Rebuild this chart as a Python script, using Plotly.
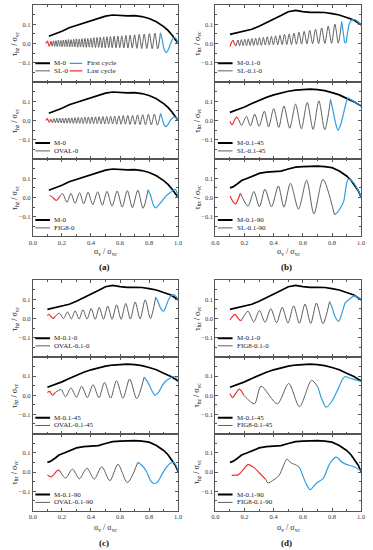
import plotly.graph_objects as go

# ---------------- monotonic curves ----------------
M0_x = [0.11, 0.15, 0.2, 0.25, 0.3, 0.35, 0.4, 0.45, 0.5, 0.55, 0.6, 0.65, 0.7, 0.75, 0.8, 0.85, 0.9, 0.93, 0.96, 0.98, 1.0]
M0_y = [0.038, 0.048, 0.064, 0.082, 0.094, 0.104, 0.118, 0.13, 0.142, 0.148, 0.146, 0.143, 0.145, 0.14, 0.13, 0.113, 0.088, 0.068, 0.042, 0.022, 0.0]

M01_0_x = [0.1, 0.15, 0.2, 0.25, 0.3, 0.35, 0.4, 0.45, 0.5, 0.55, 0.6, 0.65, 0.7, 0.75, 0.8, 0.85, 0.9, 0.95, 1.0]
M01_0_y = [0.047, 0.055, 0.063, 0.074, 0.09, 0.107, 0.125, 0.145, 0.165, 0.172, 0.166, 0.162, 0.162, 0.161, 0.155, 0.148, 0.135, 0.122, 0.097]

M01_45_x = [0.1, 0.15, 0.2, 0.25, 0.3, 0.35, 0.4, 0.45, 0.5, 0.55, 0.6, 0.65, 0.7, 0.75, 0.8, 0.85, 0.9, 0.95, 1.0]
M01_45_y = [0.042, 0.055, 0.07, 0.088, 0.105, 0.12, 0.133, 0.143, 0.152, 0.158, 0.162, 0.163, 0.16, 0.155, 0.145, 0.133, 0.115, 0.098, 0.075]

M01_90_x = [0.1, 0.12, 0.15, 0.18, 0.22, 0.26, 0.3, 0.35, 0.4, 0.45, 0.5, 0.55, 0.6, 0.65, 0.7, 0.75, 0.8, 0.85, 0.9, 0.93, 0.96, 0.98, 1.0]
M01_90_y = [0.05, 0.055, 0.07, 0.088, 0.1, 0.112, 0.125, 0.132, 0.135, 0.137, 0.148, 0.158, 0.16, 0.162, 0.163, 0.16, 0.155, 0.138, 0.112, 0.09, 0.06, 0.035, 0.0]

# ---------------- (a) SL-0 ----------------
SL0_red_x = [0.09, 0.1, 0.112, 0.125]
SL0_red_y = [0.0, 0.013, -0.014, 0.012]
SL0_peak_x = [0.125, 0.142, 0.159, 0.176, 0.193, 0.21, 0.227, 0.245, 0.263, 0.281, 0.3, 0.319, 0.338, 0.358, 0.378, 0.399, 0.42,
              0.442, 0.464, 0.487, 0.51, 0.534, 0.559, 0.585, 0.612, 0.64, 0.669, 0.7, 0.732, 0.766, 0.802, 0.84, 0.878]
SL0_peak_y = [0.012, 0.014, 0.015, 0.017, 0.016, 0.018, 0.019, 0.021, 0.02, 0.022, 0.024, 0.023, 0.025, 0.027, 0.026, 0.028, 0.03,
              0.031, 0.033, 0.034, 0.035, 0.036, 0.038, 0.039, 0.04, 0.042, 0.043, 0.045, 0.047, 0.049, 0.051, 0.053, 0.055]
SL0_trough_x = [0.133, 0.15, 0.167, 0.184, 0.201, 0.218, 0.236, 0.254, 0.272, 0.29, 0.309, 0.328, 0.348, 0.368, 0.388, 0.409,
                0.431, 0.453, 0.475, 0.498, 0.522, 0.546, 0.572, 0.598, 0.626, 0.654, 0.684, 0.716, 0.749, 0.784, 0.821, 0.859]
SL0_trough_y = [-0.014, -0.015, -0.016, -0.015, -0.017, -0.016, -0.017, -0.018, -0.017, -0.018, -0.019, -0.018, -0.019, -0.02,
                -0.019, -0.02, -0.021, -0.02, -0.021, -0.022, -0.021, -0.022, -0.023, -0.022, -0.023, -0.024, -0.024, -0.025,
                -0.026, -0.026, -0.027, -0.028]
SL0_blue_x = [0.878, 0.89, 0.903, 0.917, 0.93, 0.945, 0.96, 0.975, 0.99, 1.0]
SL0_blue_y = [0.055, 0.02, -0.03, -0.047, -0.035, -0.005, 0.02, 0.032, 0.02, 0.0]

# ---------------- (a) OVAL-0 ----------------
OV0_red_x = [0.09, 0.1, 0.112, 0.125]
OV0_red_y = [0.0, 0.01, -0.009, 0.006]
OV0_peak_x = [0.125, 0.145, 0.165, 0.185, 0.205, 0.226, 0.247, 0.268, 0.29, 0.312, 0.335, 0.358, 0.382, 0.406, 0.431, 0.456,
              0.482, 0.508, 0.535, 0.563, 0.592, 0.622, 0.653, 0.686, 0.72, 0.756, 0.795, 0.836, 0.878]
OV0_peak_y = [0.006, 0.01, 0.011, 0.012, 0.012, 0.013, 0.014, 0.014, 0.015, 0.016, 0.016, 0.017, 0.018, 0.018, 0.019, 0.02,
              0.021, 0.021, 0.022, 0.023, 0.024, 0.025, 0.026, 0.027, 0.029, 0.03, 0.032, 0.034, 0.036]
OV0_trough_x = [0.135, 0.155, 0.175, 0.195, 0.215, 0.236, 0.257, 0.279, 0.301, 0.323, 0.346, 0.37, 0.394, 0.418, 0.443, 0.469,
                0.495, 0.521, 0.549, 0.577, 0.607, 0.637, 0.669, 0.703, 0.738, 0.775, 0.815, 0.857]
OV0_trough_y = [-0.012, -0.012, -0.013, -0.013, -0.014, -0.014, -0.014, -0.015, -0.015, -0.015, -0.016, -0.016, -0.016, -0.017,
                -0.017, -0.017, -0.018, -0.018, -0.018, -0.019, -0.019, -0.019, -0.02, -0.02, -0.021, -0.022, -0.023, -0.024]
OV0_blue_x = [0.878, 0.89, 0.905, 0.917, 0.93, 0.95, 0.97, 0.985, 1.0]
OV0_blue_y = [0.036, 0.01, -0.025, -0.032, -0.02, 0.005, 0.018, 0.015, 0.003]

# ---------------- (a) FIG8-0 ----------------
F80_red_x = [0.115, 0.135, 0.16, 0.178, 0.19]
F80_red_y = [0.01, 0.002, -0.015, -0.002, 0.012]
F80_gray_x = [0.19, 0.205, 0.235, 0.262, 0.29, 0.322, 0.35, 0.38, 0.412, 0.446, 0.478, 0.51, 0.545, 0.58, 0.615, 0.65, 0.685, 0.722, 0.758, 0.793]
F80_gray_y = [0.012, 0.02, -0.025, 0.022, -0.03, 0.025, -0.033, 0.027, -0.037, 0.03, -0.04, 0.032, -0.045, 0.034, -0.05, 0.036, -0.053, 0.038, -0.056, 0.04]
F80_blue_x = [0.793, 0.81, 0.83, 0.845, 0.865, 0.89, 0.912, 0.946, 0.98, 1.0]
F80_blue_y = [0.04, 0.01, -0.04, -0.054, -0.04, -0.018, 0.005, 0.026, 0.042, 0.0]

# ---------------- (b) SL-0.1-0 ----------------
SL01_0_red_x = [0.1, 0.112, 0.122, 0.132, 0.142]
SL01_0_red_y = [-0.015, 0.008, 0.016, -0.004, -0.012]
SL01_0_trough_x = [0.142, 0.166, 0.19, 0.214, 0.238, 0.263, 0.289, 0.315, 0.342, 0.37, 0.398, 0.428, 0.458, 0.49, 0.522, 0.556,
                   0.591, 0.628, 0.667, 0.708, 0.751, 0.797, 0.843]
SL01_0_trough_y = [-0.012, -0.012, -0.011, -0.011, -0.01, -0.01, -0.009, -0.009, -0.008, -0.008, -0.007, -0.007, -0.006, -0.005,
                   -0.005, -0.004, -0.003, -0.002, -0.001, 0.0, 0.0, 0.001, 0.002]
SL01_0_peak_x = [0.155, 0.178, 0.202, 0.226, 0.251, 0.276, 0.302, 0.329, 0.356, 0.384, 0.413, 0.443, 0.474, 0.506, 0.539, 0.573,
                 0.609, 0.647, 0.687, 0.729, 0.774, 0.82, 0.866]
SL01_0_peak_y = [0.018, 0.02, 0.022, 0.024, 0.026, 0.028, 0.03, 0.032, 0.035, 0.037, 0.04, 0.043, 0.047, 0.05, 0.054, 0.058,
                 0.063, 0.068, 0.074, 0.081, 0.09, 0.1, 0.113]
SL01_0_blue_x = [0.866, 0.873, 0.88, 0.888, 0.895, 0.905, 0.918, 0.935, 0.955, 0.975, 1.0]
SL01_0_blue_y = [0.113, 0.08, 0.04, 0.005, 0.005, 0.05, 0.1, 0.122, 0.124, 0.115, 0.095]

# ---------------- (b) SL-0.1-45 ----------------
SL01_45_red_x = [0.1, 0.115, 0.13, 0.145, 0.16]
SL01_45_red_y = [-0.005, -0.022, 0.0, 0.018, 0.005]
SL01_45_gray_x = [0.16, 0.18, 0.213, 0.24, 0.27, 0.3, 0.336, 0.365, 0.4, 0.435, 0.47, 0.51, 0.55, 0.59, 0.63, 0.67, 0.71, 0.75, 0.79]
SL01_45_gray_y = [0.005, -0.025, 0.022, -0.028, 0.033, -0.03, 0.048, -0.033, 0.062, -0.036, 0.075, -0.04, 0.085, -0.043, 0.094, -0.046, 0.102, -0.048, 0.11]
SL01_45_blue_x = [0.79, 0.81, 0.83, 0.842, 0.86, 0.88, 0.9, 0.912, 0.93, 0.95, 0.975, 1.0]
SL01_45_blue_y = [0.11, 0.04, -0.03, -0.05, -0.02, 0.04, 0.1, 0.116, 0.108, 0.1, 0.088, 0.072]

# ---------------- (b) SL-0.1-90 ----------------
SL01_90_red_x = [0.1, 0.12, 0.138, 0.155, 0.172]
SL01_90_red_y = [0.008, -0.02, -0.035, -0.01, 0.022]
SL01_90_gray_x = [0.172, 0.224, 0.264, 0.302, 0.34, 0.385, 0.432, 0.47, 0.515, 0.57, 0.626, 0.676, 0.738, 0.817]
SL01_90_gray_y = [0.022, -0.045, 0.031, -0.048, 0.043, -0.048, 0.06, -0.05, 0.074, -0.06, 0.09, -0.085, 0.094, -0.09]
SL01_90_blue_x = [0.817, 0.84, 0.86, 0.88, 0.895, 0.91, 0.93, 0.95, 0.97, 0.985, 1.0]
SL01_90_blue_y = [-0.09, -0.075, -0.05, -0.02, 0.05, 0.095, 0.09, 0.075, 0.05, 0.03, 0.0]

# ---------------- (c) OVAL-0.1-0 ----------------
OV01_0_red_x = [0.1, 0.11, 0.125, 0.14, 0.155]
OV01_0_red_y = [0.015, 0.022, 0.01, 0.0, 0.012]
OV01_0_gray_x = [0.155, 0.183, 0.21, 0.239, 0.265, 0.291, 0.318, 0.345, 0.373, 0.401, 0.429, 0.457, 0.486, 0.515, 0.545, 0.576,
                 0.607, 0.639, 0.671, 0.704, 0.738, 0.773, 0.809, 0.845]
OV01_0_gray_y = [0.012, 0.028, 0.0, 0.034, -0.002, 0.04, -0.003, 0.046, -0.003, 0.052, -0.004, 0.058, -0.004, 0.064, -0.004,
                 0.071, -0.004, 0.078, -0.003, 0.086, -0.002, 0.097, 0.0, 0.11]
OV01_0_blue_x = [0.845, 0.86, 0.875, 0.89, 0.9, 0.915, 0.935, 0.955, 0.968, 0.985, 1.0]
OV01_0_blue_y = [0.11, 0.09, 0.06, 0.042, 0.038, 0.06, 0.1, 0.12, 0.124, 0.115, 0.1]

# ---------------- (c) OVAL-0.1-45 ----------------
OV01_45_red_x = [0.1, 0.115, 0.135, 0.155]
OV01_45_red_y = [0.015, 0.02, 0.0, 0.015]
OV01_45_gray_x = [0.155, 0.194, 0.225, 0.262, 0.3, 0.336, 0.375, 0.414, 0.455, 0.493, 0.535, 0.576, 0.62, 0.666, 0.715, 0.766]
OV01_45_gray_y = [0.015, 0.03, -0.008, 0.038, -0.01, 0.047, -0.012, 0.055, -0.013, 0.067, -0.015, 0.076, -0.016, 0.085, -0.018, 0.095]
OV01_45_blue_x = [0.766, 0.79, 0.815, 0.841, 0.865, 0.89, 0.912, 0.935, 0.968, 1.0]
OV01_45_blue_y = [0.095, 0.07, 0.03, 0.0, 0.015, 0.05, 0.072, 0.085, 0.098, 0.08]

# ---------------- (c) OVAL-0.1-90 ----------------
OV01_90_red_x = [0.1, 0.113, 0.126, 0.145, 0.162, 0.177, 0.19]
OV01_90_red_y = [-0.015, -0.022, -0.025, -0.012, 0.003, 0.01, 0.0]
OV01_90_gray_x = [0.19, 0.225, 0.273, 0.32, 0.372, 0.422, 0.474, 0.53, 0.586, 0.65, 0.722]
OV01_90_gray_y = [0.0, -0.032, 0.015, -0.035, 0.02, -0.037, 0.027, -0.045, 0.04, -0.055, 0.05]
OV01_90_blue_x = [0.722, 0.75, 0.78, 0.81, 0.834, 0.86, 0.89, 0.92, 0.945, 0.968, 0.985, 1.0]
OV01_90_blue_y = [0.05, 0.035, 0.005, -0.045, -0.061, -0.05, -0.01, 0.025, 0.045, 0.05, 0.035, 0.003]

# ---------------- (d) FIG8-0.1-0 ----------------
F801_0_red_x = [0.1, 0.115, 0.135, 0.152, 0.169, 0.182]
F801_0_red_y = [-0.008, 0.008, 0.021, 0.005, -0.01, -0.006]
F801_0_gray_x = [0.182, 0.224, 0.263, 0.302, 0.341, 0.38, 0.42, 0.459, 0.498, 0.537, 0.576, 0.615, 0.654, 0.693, 0.738, 0.783]
F801_0_gray_y = [-0.006, 0.038, -0.018, 0.041, -0.02, 0.051, -0.022, 0.058, -0.024, 0.066, -0.025, 0.075, -0.026, 0.08, -0.027, 0.088]
F801_0_blue_x = [0.783, 0.8, 0.82, 0.846, 0.865, 0.89, 0.91, 0.935, 0.955, 0.975, 1.0]
F801_0_blue_y = [0.088, 0.06, 0.01, -0.015, 0.02, 0.08, 0.095, 0.11, 0.118, 0.11, 0.1]

# ---------------- (d) FIG8-0.1-45 ----------------
F801_45_red_x = [0.1, 0.118, 0.14, 0.163, 0.18, 0.195]
F801_45_red_y = [0.008, -0.012, 0.01, 0.032, 0.02, 0.0]
F801_45_gray_x = [0.195, 0.268, 0.313, 0.425, 0.503, 0.577, 0.66, 0.705]
F801_45_gray_y = [0.0, -0.045, 0.048, -0.045, 0.062, -0.06, 0.078, 0.04]
F801_45_blue_x = [0.705, 0.73, 0.76, 0.8, 0.84, 0.87, 0.89, 0.92, 0.95, 0.975, 1.0]
F801_45_blue_y = [0.04, -0.02, -0.062, -0.03, 0.03, 0.08, 0.098, 0.09, 0.083, 0.078, 0.072]

# ---------------- (d) FIG8-0.1-90 ----------------
F801_90_red_x = [0.112, 0.135, 0.157, 0.19, 0.224, 0.25, 0.27, 0.302, 0.347]
F801_90_red_y = [-0.018, -0.016, -0.015, 0.012, 0.038, 0.03, 0.02, -0.005, -0.04]
F801_90_gray_x = [0.347, 0.36, 0.392, 0.436, 0.47, 0.49, 0.52, 0.555, 0.58]
F801_90_gray_y = [-0.04, -0.057, -0.045, -0.019, 0.038, 0.067, 0.047, 0.036, 0.02]
F801_90_blue_x = [0.58, 0.6, 0.625, 0.65, 0.694, 0.74, 0.77, 0.79, 0.83, 0.87, 0.917, 0.96, 1.0]
F801_90_blue_y = [0.02, -0.02, -0.065, -0.092, -0.057, -0.033, 0.02, 0.05, 0.077, 0.05, 0.035, 0.025, 0.005]

# ---------------- labels ----------------
x_tick_vals = [0.0, 0.2, 0.4, 0.6, 0.8, 1.0]
y_tick_vals = [-0.1, 0.0, 0.1]
panel_letters = ["(a)", "(b)", "(c)", "(d)"]


def interleave(first, second):
    out = []
    for i in range(max(len(first), len(second))):
        if i < len(first):
            out.append(first[i])
        if i < len(second):
            out.append(second[i])
    return out


SL0_gray_x = interleave(SL0_peak_x, SL0_trough_x)
SL0_gray_y = interleave(SL0_peak_y, SL0_trough_y)
OV0_gray_x = interleave(OV0_peak_x, OV0_trough_x)
OV0_gray_y = interleave(OV0_peak_y, OV0_trough_y)
SL01_0_gray_x = interleave(SL01_0_trough_x, SL01_0_peak_x)
SL01_0_gray_y = interleave(SL01_0_trough_y, SL01_0_peak_y)

# (column, row, mono, mono label, cyclic label, red, gray, blue)
subplots = [
    ("A", 0, (M0_x, M0_y), "M-0", "SL-0", (SL0_red_x, SL0_red_y), (SL0_gray_x, SL0_gray_y), (SL0_blue_x, SL0_blue_y)),
    ("A", 1, (M0_x, M0_y), "M-0", "OVAL-0", (OV0_red_x, OV0_red_y), (OV0_gray_x, OV0_gray_y), (OV0_blue_x, OV0_blue_y)),
    ("A", 2, (M0_x, M0_y), "M-0", "FIG8-0", (F80_red_x, F80_red_y), (F80_gray_x, F80_gray_y), (F80_blue_x, F80_blue_y)),
    ("B", 0, (M01_0_x, M01_0_y), "M-0.1-0", "SL-0.1-0", (SL01_0_red_x, SL01_0_red_y), (SL01_0_gray_x, SL01_0_gray_y), (SL01_0_blue_x, SL01_0_blue_y)),
    ("B", 1, (M01_45_x, M01_45_y), "M-0.1-45", "SL-0.1-45", (SL01_45_red_x, SL01_45_red_y), (SL01_45_gray_x, SL01_45_gray_y), (SL01_45_blue_x, SL01_45_blue_y)),
    ("B", 2, (M01_90_x, M01_90_y), "M-0.1-90", "SL-0.1-90", (SL01_90_red_x, SL01_90_red_y), (SL01_90_gray_x, SL01_90_gray_y), (SL01_90_blue_x, SL01_90_blue_y)),
    ("A", 3, (M01_0_x, M01_0_y), "M-0.1-0", "OVAL-0.1-0", (OV01_0_red_x, OV01_0_red_y), (OV01_0_gray_x, OV01_0_gray_y), (OV01_0_blue_x, OV01_0_blue_y)),
    ("A", 4, (M01_45_x, M01_45_y), "M-0.1-45", "OVAL-0.1-45", (OV01_45_red_x, OV01_45_red_y), (OV01_45_gray_x, OV01_45_gray_y), (OV01_45_blue_x, OV01_45_blue_y)),
    ("A", 5, (M01_90_x, M01_90_y), "M-0.1-90", "OVAL-0.1-90", (OV01_90_red_x, OV01_90_red_y), (OV01_90_gray_x, OV01_90_gray_y), (OV01_90_blue_x, OV01_90_blue_y)),
    ("B", 3, (M01_0_x, M01_0_y), "M-0.1-0", "FIG8-0.1-0", (F801_0_red_x, F801_0_red_y), (F801_0_gray_x, F801_0_gray_y), (F801_0_blue_x, F801_0_blue_y)),
    ("B", 4, (M01_45_x, M01_45_y), "M-0.1-45", "FIG8-0.1-45", (F801_45_red_x, F801_45_red_y), (F801_45_gray_x, F801_45_gray_y), (F801_45_blue_x, F801_45_blue_y)),
    ("B", 5, (M01_90_x, M01_90_y), "M-0.1-90", "FIG8-0.1-90", (F801_90_red_x, F801_90_red_y), (F801_90_gray_x, F801_90_gray_y), (F801_90_blue_x, F801_90_blue_y)),
]

W, H = 373, 550
XPIX = {"A": (29.5, 178.0), "B": (216.0, 365.0)}
ROW_TOP = [5, 82, 159, 280, 357, 433.5]
ROW_BOT = [82, 159, 236, 357, 433.5, 510.5]

FONT = "Liberation Serif"
BLACK = "#000000"
GRAY = "#5f5f5f"
BLUE = "#2aa0e4"
RED = "#ee3030"
FRAME = "#555555"

fig = go.Figure()
annotations = []
shapes = []

for i, (col, row, mono, mlab, clab, red, gray, blue) in enumerate(subplots):
    n = i + 1
    xa = "x" if n == 1 else "x%d" % n
    ya = "y" if n == 1 else "y%d" % n
    x0, x1 = XPIX[col]
    xdom = [x0 / W, x1 / W]
    ydom = [1 - ROW_BOT[row] / H, 1 - ROW_TOP[row] / H]
    bottom_row = row in (2, 5)

    fig.add_trace(go.Scatter(x=mono[0], y=mono[1], mode="lines", xaxis=xa, yaxis=ya,
                             line=dict(color=BLACK, width=1.7), showlegend=False, hoverinfo="skip"))
    fig.add_trace(go.Scatter(x=gray[0], y=gray[1], mode="lines", xaxis=xa, yaxis=ya,
                             line=dict(color=GRAY, width=1, shape="spline", smoothing=0.8), showlegend=False, hoverinfo="skip"))
    fig.add_trace(go.Scatter(x=red[0], y=red[1], mode="lines", xaxis=xa, yaxis=ya,
                             line=dict(color=RED, width=1.2, shape="spline", smoothing=0.8), showlegend=False, hoverinfo="skip"))
    fig.add_trace(go.Scatter(x=blue[0], y=blue[1], mode="lines", xaxis=xa, yaxis=ya,
                             line=dict(color=BLUE, width=1.2, shape="spline", smoothing=0.8), showlegend=False, hoverinfo="skip"))

    xkey = "xaxis" if n == 1 else "xaxis%d" % n
    ykey = "yaxis" if n == 1 else "yaxis%d" % n
    fig.layout[xkey] = dict(domain=xdom, anchor=ya, range=[0, 1], showgrid=False, zeroline=False,
                            showline=True, linecolor=FRAME, linewidth=1, mirror="ticks",
                            ticks="inside", ticklen=3, tickcolor=FRAME, tickvals=x_tick_vals,
                            tickformat=".1f", showticklabels=bottom_row,
                            tickfont=dict(family=FONT, size=6.5, color="#333"),
                            minor=dict(ticks="inside", ticklen=1.8, tickcolor=FRAME, dtick=0.1, tick0=0))
    fig.layout[ykey] = dict(domain=ydom, anchor=xa, range=[-0.2, 0.2], showgrid=False, zeroline=False,
                            showline=True, linecolor=FRAME, linewidth=1, mirror="ticks",
                            ticks="inside", ticklen=3, tickcolor=FRAME, tickvals=y_tick_vals,
                            tickformat=".1f", tickfont=dict(family=FONT, size=6.5, color="#333"),
                            minor=dict(ticks="inside", ticklen=1.8, tickcolor=FRAME, tickvals=[-0.15, -0.05, 0.05, 0.15]))

    # y axis title
    ycen = 1 - (ROW_TOP[row] + ROW_BOT[row]) / 2 / H
    annotations.append(dict(text="τ<sub>hz</sub> / σ<sub>vc</sub>", x=(x0 - 18.5) / W, y=ycen, xref="paper", yref="paper",
                            textangle=-90, showarrow=False, xanchor="center", yanchor="middle",
                            font=dict(family=FONT, size=8, color="#222")))

    # legend
    ly1 = -0.103 if row in (0, 3) else -0.117
    ly2 = -0.142 if row in (0, 3) else -0.158
    shapes.append(dict(type="line", xref=xa, yref=ya, x0=0.017, x1=0.118, y0=ly1, y1=ly1, line=dict(color=BLACK, width=2)))
    shapes.append(dict(type="line", xref=xa, yref=ya, x0=0.017, x1=0.118, y0=ly2, y1=ly2, line=dict(color=GRAY, width=1)))
    annotations.append(dict(text=mlab, x=0.135, y=ly1, xref=xa, yref=ya, showarrow=False, xanchor="left", yanchor="middle",
                            font=dict(family=FONT, size=7, color="#222")))
    annotations.append(dict(text=clab, x=0.135, y=ly2, xref=xa, yref=ya, showarrow=False, xanchor="left", yanchor="middle",
                            font=dict(family=FONT, size=7, color="#222")))
    if n == 1:
        shapes.append(dict(type="line", xref=xa, yref=ya, x0=0.253, x1=0.34, y0=ly1, y1=ly1, line=dict(color=BLUE, width=1.2)))
        shapes.append(dict(type="line", xref=xa, yref=ya, x0=0.253, x1=0.34, y0=ly2, y1=ly2, line=dict(color=RED, width=1.2)))
        annotations.append(dict(text="First cycle", x=0.357, y=ly1, xref=xa, yref=ya, showarrow=False, xanchor="left",
                                yanchor="middle", font=dict(family=FONT, size=7, color="#222")))
        annotations.append(dict(text="Last cycle", x=0.357, y=ly2, xref=xa, yref=ya, showarrow=False, xanchor="left",
                                yanchor="middle", font=dict(family=FONT, size=7, color="#222")))

    if bottom_row:
        xcen = (x0 + x1) / 2 / W
        yt = 252 if row == 2 else 528
        annotations.append(dict(text="σ<sub>v</sub> / σ<sub>vc</sub>", x=xcen, y=1 - yt / H, xref="paper", yref="paper",
                                showarrow=False, xanchor="center", yanchor="middle",
                                font=dict(family=FONT, size=8, color="#222")))
        letter = panel_letters[(0 if col == "A" else 1) + (0 if row == 2 else 2)]
        yl = 267 if row == 2 else 543
        annotations.append(dict(text="<b>%s</b>" % letter, x=xcen - 1.5 / W, y=1 - yl / H, xref="paper", yref="paper",
                                showarrow=False, xanchor="center", yanchor="middle",
                                font=dict(family=FONT, size=9, color="#111")))

fig.update_layout(width=W, height=H, margin=dict(l=0, r=0, t=0, b=0), paper_bgcolor="white", plot_bgcolor="white",
                  showlegend=False, annotations=annotations, shapes=shapes)

fig.write_html("out.html", config={"displayModeBar": False, "staticPlot": True},
               post_script="document.body.style.margin='0px';document.body.style.padding='0px';")
